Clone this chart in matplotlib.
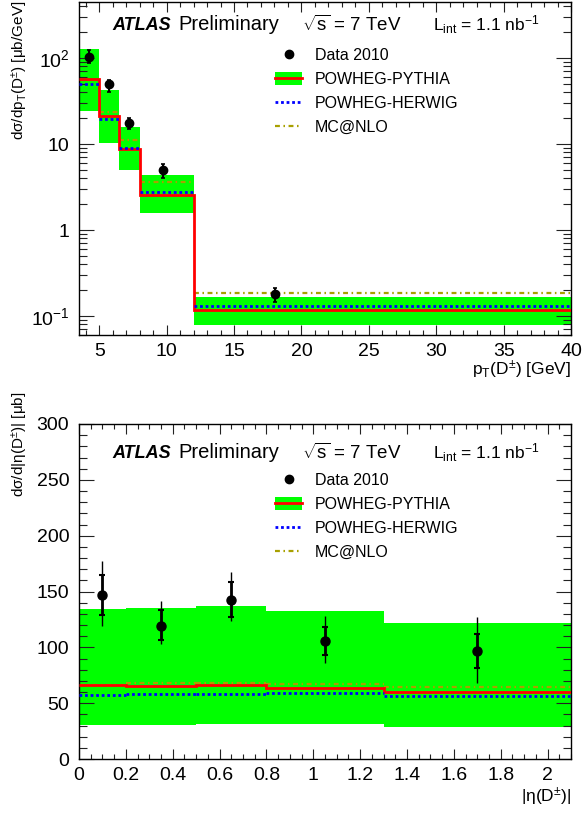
import matplotlib
matplotlib.use("Agg")
import matplotlib.pyplot as plt
from matplotlib.patches import Patch
from matplotlib.lines import Line2D
from matplotlib.ticker import FixedLocator, MultipleLocator, LogLocator, NullFormatter, FixedFormatter
import numpy as np

plt.rcParams['font.family'] = ['Liberation Sans', 'DejaVu Sans']
plt.rcParams['mathtext.fontset'] = 'custom'
plt.rcParams['mathtext.rm'] = 'Liberation Sans'
plt.rcParams['mathtext.it'] = 'Liberation Sans:italic'
plt.rcParams['mathtext.bf'] = 'Liberation Sans:bold'
plt.rcParams['mathtext.sf'] = 'Liberation Sans'
plt.rcParams['mathtext.default'] = 'regular'

# ---------------- data: pT distribution ----------------
pt_edges = [3.5, 5, 6.5, 8, 12, 40]
pt_pythia = [57.5, 21.2, 8.67, 2.55, 0.116]
pt_pythia_up = [127, 42.5, 15.9, 4.36, 0.168]
pt_pythia_dn = [24.2, 10.4, 5.0, 1.58, 0.0785]
pt_herwig = [49.4, 19.7, 9.06, 2.77, 0.132]
pt_mcnlo = [56.0, 23.5, 11.1, 3.65, 0.184]
pt_data_x = [4.24, 5.73, 7.2, 9.76, 18.04]
pt_data = [103, 49.4, 17.4, 4.99, 0.179]
pt_data_hi = [124, 55.5, 19.9, 5.8, 0.212]
pt_data_lo = [86.7, 40.5, 14.9, 4.05, 0.146]
pt_ticks = [5, 10, 15, 20, 25, 30, 35, 40]

# ---------------- data: |eta| distribution ----------------
eta_edges = [0, 0.2, 0.5, 0.8, 1.3, 2.1]
eta_pythia = [66.6, 65.1, 66.0, 64.0, 59.8]
eta_pythia_up = [134, 135, 136.8, 132.6, 122.1]
eta_pythia_dn = [30.5, 30.5, 31.0, 31.5, 29.0]
eta_herwig = [57.6, 58.2, 58.5, 58.8, 56.7]
eta_mcnlo = [66.5, 67.8, 67.8, 66.9, 64.2]
eta_data_x = [0.1, 0.35, 0.65, 1.05, 1.7]
eta_data = [147, 119.5, 142.5, 105.7, 96.8]
eta_stat_hi = [164.9, 133.2, 158.3, 118.0, 112.0]
eta_stat_lo = [129.3, 106.3, 127.2, 93.2, 81.5]
eta_tot_hi = [177.4, 141.8, 167.6, 128.1, 127.2]
eta_tot_lo = [119.2, 103.3, 123.4, 86.3, 68.4]
eta_ticks = [0, 0.2, 0.4, 0.6, 0.8, 1, 1.2, 1.4, 1.6, 1.8, 2]
eta_ticklabels = ['0', '0.2', '0.4', '0.6', '0.8', '1', '1.2', '1.4', '1.6', '1.8', '2']

GREEN = '#00ff00'
RED = '#ff0000'
BLUE = '#0000ff'
OLIVE = '#a8a000'

W, H = 582, 817
fig = plt.figure(figsize=(W / 100, H / 100), dpi=100)
ax1 = fig.add_axes([79 / W, 1 - 335 / H, 492 / W, 333 / H])
ax2 = fig.add_axes([79 / W, 1 - 759 / H, 492 / W, 335 / H])


def draw_models(ax, edges, up, dn, pyth, herw, mcnlo):
    ax.stairs(up, edges, baseline=dn, fill=True, color=GREEN, lw=0, zorder=1)
    ax.hlines(mcnlo, edges[:-1], edges[1:], colors=OLIVE, lw=1.6,
              linestyles=(0, (2.2, 1.6, 0.7, 1.6)), zorder=2)
    ax.stairs(pyth, edges, baseline=None, color=RED, lw=2.0, zorder=3)
    ax.hlines(herw, edges[:-1], edges[1:], colors=BLUE, lw=2.0,
              linestyles=(0, (1.0, 1.0)), zorder=4)


def style_axes(ax):
    ax.tick_params(which='both', direction='in', top=True, right=True,
                   labelsize=14, width=0.8, color='#222222')
    ax.tick_params(axis='y', which='major', length=10.5, pad=7)
    ax.tick_params(axis='y', which='minor', length=5.5)
    ax.tick_params(axis='x', which='major', length=7.5, pad=6)
    ax.tick_params(axis='x', which='minor', length=3.8)
    for s in ax.spines.values():
        s.set_linewidth(1.0)


def add_header(ax, ytop_px, axtop_px, axbot_px):
    def fy(y):
        return (axbot_px - y) / (axbot_px - axtop_px)

    def fx(x):
        return (x - 79) / 492
    ax.text(fx(112), fy(ytop_px), 'ATLAS', fontsize=13, fontweight='bold',
            fontstyle='italic', transform=ax.transAxes, va='center', ha='left')
    ax.text(fx(178), fy(ytop_px), 'Preliminary', fontsize=14.5,
            transform=ax.transAxes, va='center', ha='left')
    ax.text(fx(302), fy(ytop_px), r'$\sqrt{s}$ = 7 TeV', fontsize=13.5,
            transform=ax.transAxes, va='center', ha='left')
    ax.text(fx(433), fy(ytop_px), r'L$_{\rm int}$ = 1.1 nb$^{-1}$', fontsize=12.5,
            transform=ax.transAxes, va='center', ha='left')


def add_legend(ax, top_px, axtop_px, axbot_px):
    handles = [
        Line2D([], [], color='black', marker='o', ls='none', ms=6),
        (Patch(facecolor=GREEN, edgecolor='none'), Line2D([], [], color=RED, lw=2.0)),
        Line2D([], [], color=BLUE, lw=2.0, ls=(0, (1.0, 1.0))),
        Line2D([], [], color=OLIVE, lw=1.6, ls=(0, (2.2, 1.6, 0.7, 1.6))),
    ]
    labels = ['Data 2010', 'POWHEG-PYTHIA', 'POWHEG-HERWIG', 'MC@NLO']
    y = (axbot_px - top_px) / (axbot_px - axtop_px)
    ax.legend(handles, labels, loc='upper left', bbox_to_anchor=((275 - 79) / 492, y),
              frameon=False, fontsize=11.5, borderpad=0, borderaxespad=0,
              handlelength=1.7, handletextpad=0.8, labelspacing=0.56,
              handleheight=0.8)


# ---------------- top panel ----------------
draw_models(ax1, pt_edges, pt_pythia_up, pt_pythia_dn, pt_pythia, pt_herwig, pt_mcnlo)
pdata = np.array(pt_data)
ax1.errorbar(pt_data_x, pt_data,
             yerr=[pdata - np.array(pt_data_lo), np.array(pt_data_hi) - pdata],
             fmt='o', color='black', ms=6, lw=1.5, capsize=1.5, capthick=1.2, zorder=5)
ax1.set_yscale('log')
ax1.set_xlim(3.5, 40)
ax1.set_ylim(0.06, 450)
ax1.xaxis.set_major_locator(FixedLocator(pt_ticks))
ax1.xaxis.set_major_formatter(FixedFormatter([str(t) for t in pt_ticks]))
ax1.xaxis.set_minor_locator(MultipleLocator(1))
ax1.yaxis.set_major_locator(FixedLocator([0.1, 1, 10, 100]))
ax1.yaxis.set_major_formatter(FixedFormatter(['$10^{-1}$', '1', '10', '$10^{2}$']))
ax1.yaxis.set_minor_locator(LogLocator(base=10, subs=np.arange(2, 10), numticks=20))
ax1.yaxis.set_minor_formatter(NullFormatter())
style_axes(ax1)
add_header(ax1, 25, 2, 335)
add_legend(ax1, 48, 2, 335)

# ---------------- bottom panel ----------------
draw_models(ax2, eta_edges, eta_pythia_up, eta_pythia_dn, eta_pythia, eta_herwig, eta_mcnlo)
edata = np.array(eta_data)
ax2.errorbar(eta_data_x, eta_data,
             yerr=[edata - np.array(eta_tot_lo), np.array(eta_tot_hi) - edata],
             fmt='none', ecolor='black', lw=1.0, zorder=5)
ax2.errorbar(eta_data_x, eta_data,
             yerr=[edata - np.array(eta_stat_lo), np.array(eta_stat_hi) - edata],
             fmt='o', color='black', ms=6.5, lw=2.0, capsize=2, capthick=1.5, zorder=6)
ax2.set_xlim(0, 2.1)
ax2.set_ylim(0, 300)
ax2.xaxis.set_major_locator(FixedLocator(eta_ticks))
ax2.xaxis.set_major_formatter(FixedFormatter(eta_ticklabels))
ax2.xaxis.set_minor_locator(MultipleLocator(0.05))
ax2.yaxis.set_major_locator(MultipleLocator(50))
ax2.yaxis.set_minor_locator(MultipleLocator(10))
style_axes(ax2)
add_header(ax2, 453, 424, 759)
add_legend(ax2, 473, 424, 759)

# ---------------- axis titles ----------------
fig.text(571 / W, 1 - 370 / H, r'p$_{\rm T}$(D$^{\pm}$) [GeV]', fontsize=12.5,
         ha='right', va='center')
fig.text(571 / W, 1 - 797 / H, r'|$\eta$(D$^{\pm}$)|', fontsize=12.5,
         ha='right', va='center')
fig.text(20 / W, 1 - 1 / H, r'd$\sigma$/dp$_{\rm T}$(D$^{\pm}$) [$\mu$b/GeV]', fontsize=11,
         rotation=90, ha='center', va='top')
fig.text(20 / W, 1 - 392 / H, r'd$\sigma$/d|$\eta$(D$^{\pm}$)| [$\mu$b]', fontsize=11,
         rotation=90, ha='center', va='top')

fig.savefig('out.png', dpi=100)
